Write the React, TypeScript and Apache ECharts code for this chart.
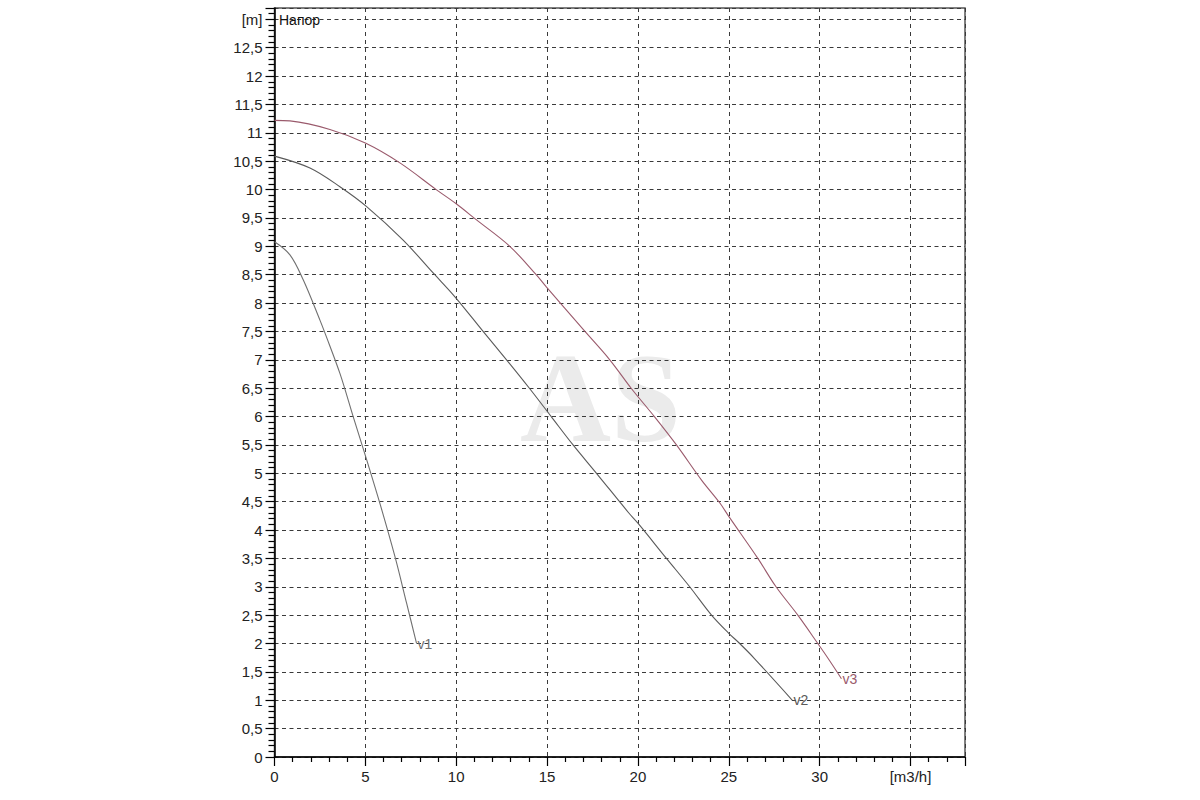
import React, { useEffect, useRef } from "react";
import * as echarts from "echarts";

const v1Q = [0, 0.85, 1.58, 2.5, 2.78, 3.6, 4.33, 5.07, 5.8, 6.63, 7.27, 7.82];
const v1H = [9.08, 8.85, 8.41, 7.7, 7.47, 6.76, 6.0, 5.24, 4.47, 3.53, 2.71, 2.0];

const v2Q = [0, 1.95, 3.6, 5.07, 7.08, 8.73, 9.93, 11.48, 12.77, 14.05, 15.25, 16.43, 17.72, 19.5, 20.0, 21.57, 22.85, 24.05, 25.0, 25.6, 26.4, 28.5];
const v2H = [10.59, 10.38, 10.05, 9.7, 9.11, 8.53, 8.11, 7.5, 7.0, 6.49, 5.99, 5.5, 5.0, 4.3, 4.12, 3.5, 3.0, 2.5, 2.18, 2.0, 1.74, 1.0];

const v3Q = [0, 0.85, 3.05, 5.0, 6.9, 8.9, 10.0, 11.1, 12.95, 14.4, 14.97, 17.0, 18.45, 19.65, 20.93, 22.12, 23.5, 24.5, 25.0, 26.6, 27.6, 28.8, 29.9, 30.46, 31.2];
const v3H = [11.22, 11.21, 11.06, 10.82, 10.47, 10.0, 9.75, 9.47, 9.0, 8.5, 8.28, 7.53, 7.0, 6.49, 5.99, 5.5, 4.88, 4.48, 4.24, 3.5, 3.0, 2.5, 2.0, 1.74, 1.38];

const seriesNames = ["v1", "v2", "v3"];
const seriesColors = ["#707070", "#5a5a5a", "#9a5a6c"];

const xUnitLabel = "[m3/h]";
const yUnitLabel = "[m]";
const titleText = "Напор";
const watermark = "AS";

const zip = (q: number[], h: number[]) => q.map((x, i) => [x, h[i]]);

export default function App() {
  const ref = useRef<HTMLDivElement>(null);
  useEffect(() => {
    if (!ref.current) return;
    const chart = echarts.init(ref.current, undefined, { renderer: "svg" });
    const font = "Liberation Sans, Arial, sans-serif";
    const data = [zip(v1Q, v1H), zip(v2Q, v2H), zip(v3Q, v3H)];
    chart.setOption({
      animation: false,
      backgroundColor: "#ffffff",
      grid: {
        left: 274.5,
        right: 235,
        top: 8,
        bottom: 43,
        show: true,
        borderColor: "#555",
        borderWidth: 1.5,
        backgroundColor: "transparent",
      },
      graphic: [
        {
          type: "text",
          left: 600 - 80,
          top: 335,
          z: -10,
          silent: true,
          style: {
            text: watermark,
            font: "bold 126px 'Liberation Serif', serif",
            fill: "#ebebeb",
          },
        },
        {
          type: "text",
          left: 279,
          top: 13,
          z: 10,
          style: {
            text: titleText,
            font: "14px 'Liberation Sans', Arial, sans-serif",
            fill: "#111",
          },
        },
      ],
      xAxis: {
        type: "value",
        min: 0,
        max: 38,
        interval: 5,
        axisLine: { show: true, onZero: false, lineStyle: { color: "#000", width: 1.5 } },
        axisTick: { show: true, length: 9, lineStyle: { color: "#000", width: 1.2 } },
        minorTick: { show: true, splitNumber: 5, length: 5, lineStyle: { color: "#000", width: 1.2 } },
        splitLine: { show: true, lineStyle: { color: "#3a3a3a", width: 1, type: [4, 4] } },
        axisLabel: {
          color: "#222",
          fontFamily: font,
          fontSize: 15,
          margin: 12,
          formatter: (v: number) => {
            if (Math.abs(v - 35) < 1e-6) return xUnitLabel;
            if (v < 35 && Math.abs(v / 5 - Math.round(v / 5)) < 1e-6) return String(v);
            return "";
          },
        },
      },
      yAxis: {
        type: "value",
        min: 0,
        max: 13.2,
        interval: 0.5,
        axisLine: { show: true, onZero: false, lineStyle: { color: "#000", width: 1.5 } },
        axisTick: { show: true, length: 9, lineStyle: { color: "#000", width: 1.2 } },
        minorTick: { show: true, splitNumber: 5, length: 6, lineStyle: { color: "#000", width: 1.2 } },
        splitLine: { show: true, lineStyle: { color: "#3a3a3a", width: 1, type: [4, 3.5] } },
        axisLabel: {
          color: "#222",
          fontFamily: font,
          fontSize: 15,
          margin: 12,
          formatter: (v: number) => {
            if (Math.abs(v - 13) < 1e-6) return yUnitLabel;
            if (v < 13 && Math.abs(v * 2 - Math.round(v * 2)) < 1e-6) {
              const r = Math.round(v * 2) / 2;
              return String(r).replace(".", ",");
            }
            return "";
          },
        },
      },
      series: data.map((d, i) => ({
        type: "line",
        name: seriesNames[i],
        data: d,
        smooth: 0.35,
        showSymbol: false,
        symbol: "none",
        lineStyle: { color: seriesColors[i], width: 1.1 },
        endLabel: {
          show: true,
          formatter: seriesNames[i],
          color: seriesColors[i],
          fontFamily: font,
          fontSize: 14,
          distance: 1,
        },
      })),
    });
    return () => chart.dispose();
  }, []);
  return (
    <div
      ref={ref}
      style={{ position: "absolute", left: 0, top: 0, width: 1200, height: 800 }}
    />
  );
}
